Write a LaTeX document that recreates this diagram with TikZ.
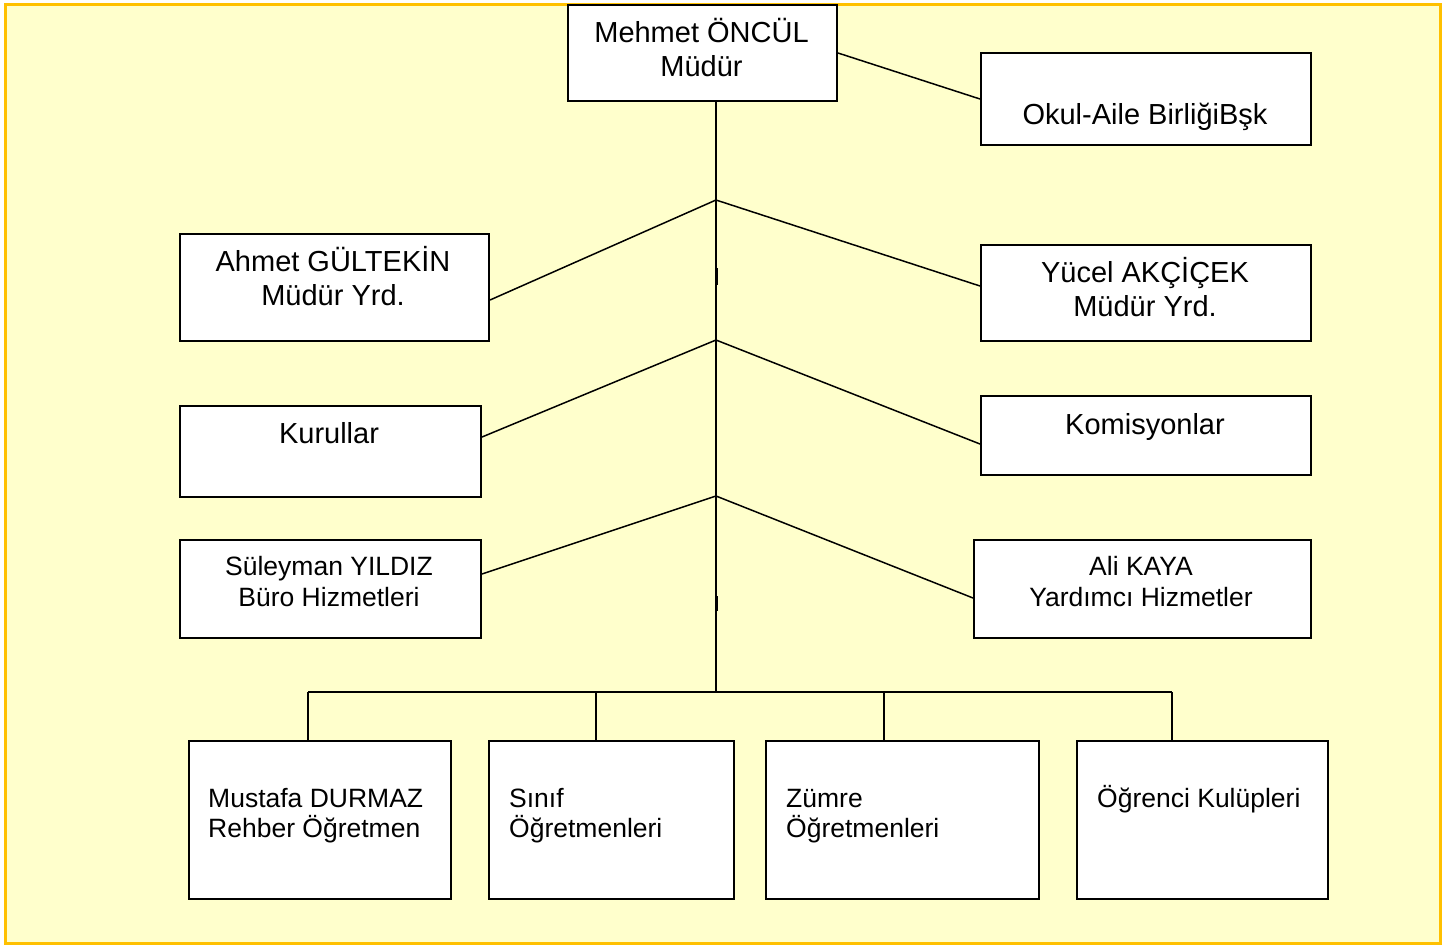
\documentclass[tikz,border=0pt]{standalone}
\usepackage{fontspec}
\setmainfont{Liberation Sans}
\definecolor{bgyellow}{RGB}{255,255,204}
\definecolor{bordergold}{RGB}{255,192,0}
\begin{document}
\begin{tikzpicture}[x=1pt,y=-1pt,
  box/.style={draw=black, line width=2pt, fill=white, inner sep=0pt, anchor=north west},
  big/.style={font=\fontsize{29}{34}\selectfont, align=center, inner sep=0pt},
  small/.style={font=\fontsize{26.5}{31}\selectfont, align=center, inner sep=0pt},
  lefttext/.style={font=\fontsize{26.5}{30}\selectfont, align=left, inner sep=0pt, anchor=west},
  conn/.style={line width=1.5pt, draw=black},
  tick/.style={line width=3pt, draw=black}]
\useasboundingbox (0,0) rectangle (1453,946);
\draw[fill=bgyellow, draw=bordergold, line width=3.5pt] (5.5,4.5) rectangle (1440.5,943.5);
% boxes
\node[box, minimum width=269, minimum height=96] (mudur) at (567,4) {};
\node[box, minimum width=330, minimum height=92] (okul) at (980,52) {};
\node[box, minimum width=309, minimum height=107] (ahmet) at (179,233) {};
\node[box, minimum width=330, minimum height=96] (yucel) at (980,244) {};
\node[box, minimum width=301, minimum height=91] (kurul) at (179,405) {};
\node[box, minimum width=330, minimum height=79] (komis) at (980,395) {};
\node[box, minimum width=301, minimum height=98] (suley) at (179,539) {};
\node[box, minimum width=337, minimum height=98] (ali) at (973,539) {};
\node[box, minimum width=262, minimum height=158] (mustafa) at (188,740) {};
\node[box, minimum width=245, minimum height=158] (sinif) at (488,740) {};
\node[box, minimum width=273, minimum height=158] (zumre) at (765,740) {};
\node[box, minimum width=251, minimum height=158] (ogrenci) at (1076,740) {};
% texts
\node[big] (mudurT) at (701.5,48) {Mehmet ÖNCÜL\\Müdür};
\node[big] (okulT) at (1145,117) {Okul-Aile BirliğiBşk};
\node[big] (ahmetT) at (333,276) {Ahmet GÜLTEKİN\\Müdür Yrd.};
\node[big] (yucelT) at (1145,287) {Yücel AKÇİÇEK\\Müdür Yrd.};
\node[big] (kurulT) at (329,433) {Kurullar};
\node[big] (komT) at (1145,427) {Komisyonlar};
\node[small] (sulT) at (329,581.5) {Süleyman YILDIZ\\Büro Hizmetleri};
\node[small] (aliT) at (1141,581.5) {Ali KAYA\\Yardımcı Hizmetler};
\node[lefttext] (mustT) at (208,816) {Mustafa DURMAZ\\Rehber Öğretmen};
\node[lefttext] (sinT) at (509,816) {Sınıf\\Öğretmenleri};
\node[lefttext] (zumT) at (786,816) {Zümre\\Öğretmenleri};
\node[lefttext] (ogrT) at (1097,799) {Öğrenci Kulüpleri};
% junctions
\coordinate (j1) at (716,200);
\coordinate (j2) at (716,340);
\coordinate (j3) at (716,496);
\coordinate (j4) at (716,692);
\coordinate (b1) at (308,692);
\coordinate (b2) at (596,692);
\coordinate (b3) at (884,692);
\coordinate (b4) at (1172,692);
% connectors
\draw[conn] (mudur.east) -- (okul.west);
\draw[conn] (mudur.south -| j1) -- (j4);
\draw[conn] (j1) -- ([yshift=-12.5pt]ahmet.east);
\draw[conn] (j1) -- ([yshift=7pt]yucel.west);
\draw[conn] (j2) -- ([yshift=14.5pt]kurul.east);
\draw[conn] (j2) -- ([yshift=-8.5pt]komis.west);
\draw[conn] (j3) -- ([yshift=15pt]suley.east);
\draw[conn] (j3) -- ([yshift=-9pt]ali.west);
\draw[conn] (b1) -- (b4);
\draw[conn] (b1) -- (b1 |- mustafa.north);
\draw[conn] (b2) -- (b2 |- sinif.north);
\draw[conn] (b3) -- (b3 |- zumre.north);
\draw[conn] (b4) -- (b4 |- ogrenci.north);
\coordinate (t1a) at (716,268);
\coordinate (t1b) at (716,285);
\coordinate (t2a) at (716,596);
\coordinate (t2b) at (716,611);
\draw[tick] (t1a) -- (t1b);
\draw[tick] (t2a) -- (t2b);
\end{tikzpicture}
\end{document}
